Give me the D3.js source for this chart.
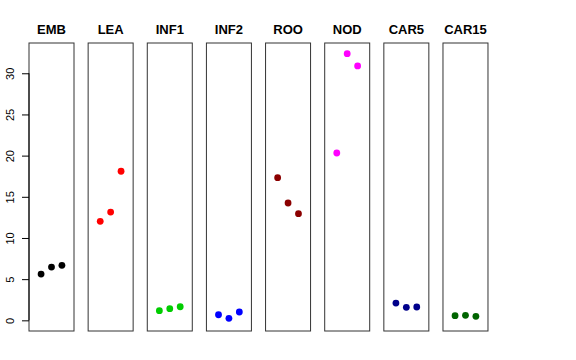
<!DOCTYPE html>
<html>
<head>
<meta charset="utf-8">
<style>
  body { margin: 0; background: white; }
  svg { font-family: 'Liberation Sans', Arial, Helvetica, sans-serif; }
</style>
</head>
<body>
<div id="canvas"></div>
<script src="https://cdnjs.cloudflare.com/ajax/libs/d3/7.8.5/d3.min.js"></script>
<script>
// panel names, colours and the three values per panel
var categories = ["EMB", "LEA", "INF1", "INF2", "ROO", "NOD", "CAR5", "CAR15"];
var colors = ["#000000", "#ff0000", "#00cd00", "#0000ff", "#8b0000", "#ff00ff", "#00008b", "#006400"];
var values = [
  [5.62, 6.47, 6.68],
  [12.02, 13.15, 18.1],
  [1.17, 1.41, 1.65],
  [0.68, 0.24, 1.01],
  [17.32, 14.25, 12.95],
  [20.32, 32.38, 30.89],
  [2.10, 1.58, 1.62],
  [0.56, 0.61, 0.49]
];
var yTicks = [0, 5, 10, 15, 20, 25, 30];

var W = 576, H = 360;
var panelTop = 43, panelBottom = 331;
var panelW = 45, firstLeft = 29, step = 59.14;

var svg = d3.select("#canvas").append("svg")
    .attr("width", W)
    .attr("height", H);

// y range like R: [0, max] padded by 4%
var ymax = d3.max(values, function(v) { return d3.max(v); });
var pad = ymax * 0.04;
var y = d3.scaleLinear().domain([-pad, ymax + pad]).range([panelBottom, panelTop]);
// x within each panel: 0..4 padded by 4%
var x = d3.scaleLinear().domain([-0.16, 4.16]).range([0, panelW]);

categories.forEach(function(name, i) {
  var left = firstLeft + i * step;
  var g = svg.append("g").attr("transform", "translate(" + left + ",0)");

  g.append("rect")
    .attr("x", 0).attr("y", panelTop)
    .attr("width", panelW).attr("height", panelBottom - panelTop)
    .attr("fill", "none").attr("stroke", "#333").attr("stroke-width", 1);

  g.append("text")
    .attr("x", panelW / 2).attr("y", 34)
    .attr("text-anchor", "middle")
    .style("font-size", "13px").style("font-weight", "bold")
    .text(name);

  g.selectAll("circle")
    .data(values[i])
    .enter().append("circle")
    .attr("cx", function(d, j) { return x(j + 1); })
    .attr("cy", function(d) { return y(d); })
    .attr("r", 3.4)
    .attr("fill", colors[i]);
});

// y axis
var axis = svg.append("g")
    .attr("transform", "translate(" + firstLeft + ",0)")
    .call(d3.axisLeft(y).tickValues(yTicks).tickSize(7).tickPadding(0).tickSizeOuter(0));
axis.select(".domain").attr("d", "M0," + y(0) + "V" + y(30)).attr("stroke", "#000");
axis.selectAll(".tick line").attr("stroke", "#000");
axis.selectAll(".tick text")
    .attr("x", 0).attr("dy", null)
    .attr("transform", "translate(-15,0) rotate(-90)")
    .attr("text-anchor", "middle")
    .style("font-size", "11px")
    .style("font-family", "'Liberation Sans', Arial, sans-serif")
    .attr("fill", "#000");
</script>
</body>
</html>
